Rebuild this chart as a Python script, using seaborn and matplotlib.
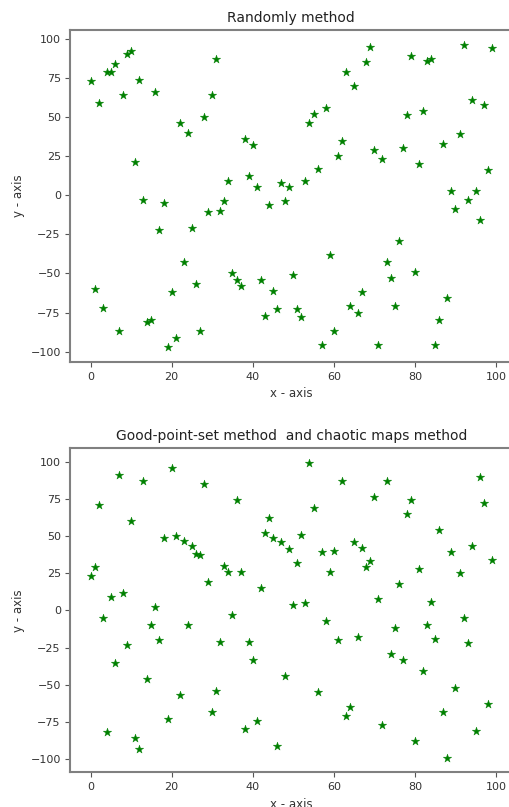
import numpy as np
import matplotlib
matplotlib.use('Agg')
import matplotlib.pyplot as plt
import seaborn as sns

# x positions are the point index 0..99 for both panels
x_vals = list(range(100))

y_random = [73, -60, 59, -72, 79, 79, 84, -87, 64, 90,
            92, 21, 74, -3, -81, -80, 66, -22, -5, -97,
            -62, -91, 46, -43, 40, -21, -57, -87, 50, -11,
            64, 87, -10, -4, 9, -50, -54, -58, 36, 12,
            32, 5, -54, -77, -6, -61, -73, 8, -4, 5,
            -51, -73, -78, 9, 46, 52, 17, -96, 56, -38,
            -87, 25, 35, 79, -71, 70, -75, -62, 85, 95,
            29, -96, 23, -43, -53, -71, -29, 30, 51, 89,
            -49, 20, 54, 86, 87, -96, -80, 33, -66, 3,
            -9, 39, 96, -3, 61, 3, -16, 58, 16, 94]

y_good = [23, 29, 71, -5, -82, 9, -35, 91, 12, -23,
          60, -86, -93, 87, -46, -10, 2, -20, 49, -73,
          96, 50, -57, 47, -10, 43, 38, 37, 85, 19,
          -68, -54, -21, 30, 26, -3, 74, 26, -80, -21,
          -33, -74, 15, 52, 62, 49, -91, 46, -44, 41,
          4, 32, 51, 5, 99, 69, -55, 39, -7, 26,
          40, -20, 87, -71, -65, 46, -18, 42, 29, 33,
          76, 8, -77, 87, -29, -12, 18, -33, 65, 74,
          -88, 28, -41, -10, 6, -19, 54, -68, -99, 39,
          -52, 25, -5, -22, 43, -81, 90, 72, -63, 34]

titles = ['Randomly method', 'Good-point-set method  and chaotic maps method']

fig = plt.figure(figsize=(5.09, 8.07), dpi=100)
ax1 = fig.add_axes([0.1385, 0.5514, 0.8674, 0.4114])
ax2 = fig.add_axes([0.1385, 0.0428, 0.8674, 0.4015])

for ax, yv, t in zip([ax1, ax2], [y_random, y_good], titles):
    sns.scatterplot(x=x_vals, y=yv, marker='*', color='green', s=40,
                    edgecolor='green', linewidth=0.3, ax=ax)
    ax.set_title(t, fontsize=10, color='#222222')
    ax.set_xlabel('x - axis', fontsize=8.5, color='#333333')
    ax.set_ylabel('y - axis', fontsize=8.5, color='#333333')
    ax.set_xticks([0, 20, 40, 60, 80, 100])
    ax.set_yticks([-100, -75, -50, -25, 0, 25, 50, 75, 100])
    ax.tick_params(labelsize=8, colors='#555555', labelcolor='#333333')
    for sp in ax.spines.values():
        sp.set_color('#808080')
        sp.set_linewidth(1.5)

fig.savefig('out.png', dpi=100)
